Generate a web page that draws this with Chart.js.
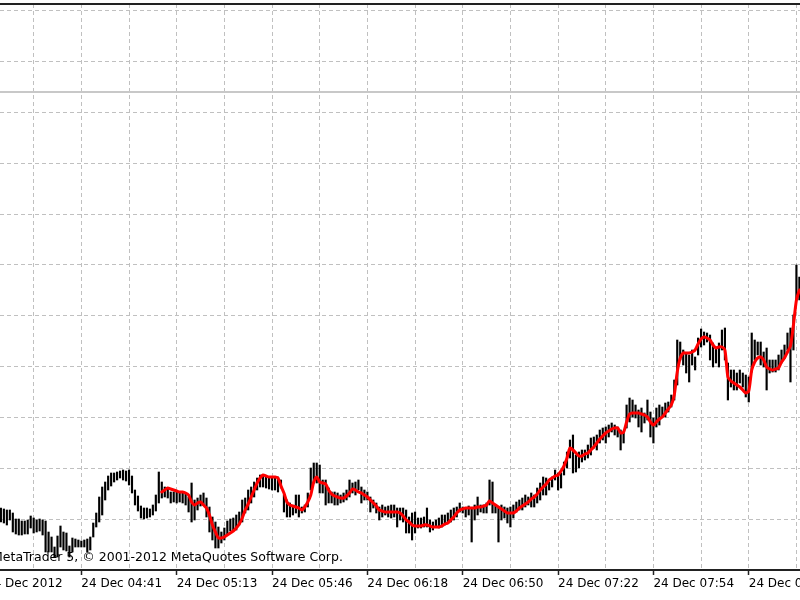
<!DOCTYPE html>
<html><head><meta charset="utf-8">
<script src="https://cdn.jsdelivr.net/npm/chart.js@4/dist/chart.umd.min.js"></script>
<style>html,body{margin:0;padding:0;background:#fff;overflow:hidden}canvas{display:block}</style>
</head><body>
<canvas id="c" width="800" height="600"></canvas>
<script>
// Price values in points (one-minute bars, high / low)
const barHigh = [
 92,91,90,90,87,81,81,79,79,80,
 84,82,80,81,80,79,68,63,53,64,
 74,68,67,54,62,61,60,59,60,61,
 63,77,87,103,113,118,124,127,127,128,
 129,130,129,130,124,110,104,94,92,92,
 91,95,105,128,118,113,112,108,108,108,
 107,107,107,103,117,100,102,105,107,102,
 93,83,78,73,68,72,79,81,82,85,
 88,100,102,110,113,118,122,125,124,123,
 122,122,123,123,120,105,100,97,93,105,
 105,93,95,107,132,137,137,135,120,120,
 112,108,108,107,105,107,110,120,117,118,
 120,113,110,108,103,100,97,93,95,93,
 94,95,95,92,92,92,90,83,87,88,
 82,82,83,92,80,78,80,82,85,85,
 87,90,92,93,97,93,92,94,92,95,
 103,95,95,97,120,118,95,93,95,93,
 92,93,95,98,100,102,105,103,107,105,
 112,117,123,122,118,123,130,127,127,138,
 148,160,165,145,148,150,150,155,162,163,
 165,170,172,173,175,177,175,173,170,168,
 195,202,200,195,190,192,187,200,188,182,
 192,195,193,197,198,205,220,260,258,250,
 247,245,250,243,262,271,268,267,265,257,
 253,257,270,272,237,230,230,227,230,227,
 225,223,267,260,258,258,248,252,240,240,
 240,245,250,255,267,272,285,335,323
];
const barLow = [
 78,77,75,80,68,66,65,65,66,66,
 72,67,68,69,65,48,48,48,43,43,
 53,50,49,43,48,53,53,53,53,48,
 50,63,73,78,85,100,110,114,118,120,
 122,120,119,115,107,95,89,82,81,82,
 83,85,89,97,102,103,102,97,98,97,
 98,97,95,88,78,80,90,94,95,83,
 68,60,52,52,57,60,65,69,70,70,
 75,78,87,90,97,103,110,113,113,112,
 111,110,110,108,112,88,83,83,85,87,
 83,87,88,93,110,117,117,107,107,95,
 97,97,95,95,97,98,100,103,107,105,
 110,97,100,100,88,92,87,80,83,85,
 83,82,83,73,80,78,67,67,60,67,
 72,72,73,73,68,70,73,72,73,75,
 77,78,80,83,88,87,83,85,58,80,
 85,88,87,87,95,87,87,58,80,82,
 77,73,82,88,90,90,93,95,93,93,
 97,100,105,105,110,113,120,110,112,125,
 132,142,127,128,132,138,140,142,145,152,
 150,157,160,157,163,168,165,163,150,157,
 172,178,183,182,173,168,177,180,163,157,
 173,175,183,183,188,193,200,215,240,235,
 227,218,235,230,245,253,255,258,240,233,
 237,233,250,240,200,213,210,210,217,213,
 203,198,228,240,245,235,233,210,227,228,
 228,230,237,242,250,218,250,300,300
];
// Moving average (red), starting at bar 54
const maStartIndex = 54;
const maValues = [
 108,110,112,111,110,109,108,108,107,105,
 98,95,97,98,95,92,85,75,68,62,
 62,63,65,67,69,72,76,82,90,96,
 103,110,117,122,125,124,123,123,123,122,
 114,107,98,95,94,93,92,90,93,98,
 105,118,123,118,117,116,110,106,104,103,
 102,102,104,107,111,110,108,107,105,103,
 100,97,94,90,89,88,88,88,88,88,
 87,84,80,78,75,74,74,74,75,75,
 74,73,73,73,74,76,77,80,83,87,
 90,91,92,92,92,92,93,93,94,95,
 99,97,95,93,91,89,87,87,87,89,
 92,94,96,98,101,103,106,110,113,116,
 120,122,124,125,129,134,142,152,150,147,
 144,144,146,147,150,153,157,161,164,167,
 169,171,172,172,167,168,178,186,187,187,
 187,186,185,183,178,175,178,181,183,187,
 191,195,205,228,242,247,247,247,248,250,
 256,261,263,262,260,255,252,253,253,250,
 223,219,217,215,213,210,207,209,230,238,
 242,243,240,233,231,230,231,232,238,242,
 248,254,275,300,310
];
const tickBars = [-5, 27, 59, 91, 123, 155, 187, 219, 251];
const tickLabels = ['24 Dec 2012','24 Dec 04:41','24 Dec 05:13','24 Dec 05:46','24 Dec 06:18','24 Dec 06:50','24 Dec 07:22','24 Dec 07:54','24 Dec 08:26'];
const gridBars = [11,27,43,59,75,91,107,123,139,155,171,187,203,219,235,251,267];
const priceGrid = [81,131.8,182.6,233.4,284.2,335,385.8,436.6,487.4,538.2,589];
const priceLine = 508;
const copyright = 'MetaTrader 5, \u00A9 2001-2012 MetaQuotes Software Corp.';

const FONT = '"DejaVu Sans", sans-serif';
const labelMap = {};
tickBars.forEach((b, i) => { labelMap[b] = tickLabels[i]; });

const decor = {
  id: 'decor',
  beforeDraw(chart) {
    const ctx = chart.ctx;
    ctx.save(); ctx.fillStyle = '#fff'; ctx.fillRect(0, 0, chart.width, chart.height); ctx.restore();
  },
  beforeDatasetsDraw(chart) {
    const {ctx, chartArea: a, scales: {y}} = chart;
    const py = Math.round(y.getPixelForValue(priceLine));
    ctx.save();
    ctx.strokeStyle = '#c8c8c8'; ctx.lineWidth = 2;
    ctx.beginPath(); ctx.moveTo(a.left, py); ctx.lineTo(a.right, py); ctx.stroke();
    ctx.strokeStyle = '#222'; ctx.lineWidth = 2;
    ctx.beginPath(); ctx.moveTo(0, a.top); ctx.lineTo(chart.width, a.top); ctx.stroke();
    ctx.restore();
  },
  afterDraw(chart) {
    const {ctx, chartArea: a} = chart;
    ctx.save();
    ctx.font = '12.5px ' + FONT; ctx.fillStyle = '#000';
    ctx.textBaseline = 'middle'; ctx.textAlign = 'left';
    ctx.fillText(copyright, -8, a.bottom - 12);
    ctx.restore();
  }
};

new Chart(document.getElementById('c'), {
  type: 'bar',
  data: {
    datasets: [
      {
        type: 'line',
        data: maValues.map((v, k) => ({x: maStartIndex + k, y: v})),
        borderColor: '#ff0000', borderWidth: 3, pointRadius: 0, tension: 0.25,
        borderJoinStyle: 'round', borderCapStyle: 'round', order: 0
      },
      {
        type: 'bar',
        data: barHigh.map((h, i) => ({x: i, y: [barLow[i], h]})),
        backgroundColor: '#000', borderWidth: 0, barThickness: 1.5, grouped: false, order: 1
      }
    ]
  },
  options: {
    responsive: false, animation: false, devicePixelRatio: 1,
    layout: {padding: {top: 4, left: 0, right: 0, bottom: 0}},
    plugins: {legend: {display: false}, tooltip: {enabled: false}},
    scales: {
      x: {
        type: 'linear', min: -0.3, max: 268.2, offset: false,
        afterBuildTicks: s => { s.ticks = [-5, ...gridBars].map(v => ({value: v})); },
        afterFit: s => { s.height = 30; s.paddingLeft = 0; s.paddingRight = 0; },
        ticks: {
          autoSkip: false, maxRotation: 0, minRotation: 0, align: 'start', padding: 2,
          color: '#000', font: {family: FONT, size: 12},
          callback: v => (labelMap[v] !== undefined ? labelMap[v] : '')
        },
        grid: {
          offset: false, color: '#c0c0c0', lineWidth: 1, drawTicks: true, tickLength: 5,
          tickWidth: 1.5, tickBorderDash: [],
          tickColor: c => (c.tick && labelMap[c.tick.value] !== undefined) ? '#222' : 'rgba(0,0,0,0)'
        },
        border: {display: true, color: '#222', width: 2, dash: [4, 3]}
      },
      y: {
        type: 'linear', min: 30, max: 596,
        afterBuildTicks: s => { s.ticks = priceGrid.map(v => ({value: v})); },
        afterFit: s => { s.width = 0; },
        ticks: {display: false},
        grid: {color: '#c0c0c0', lineWidth: 1, drawTicks: false},
        border: {display: false, dash: [4, 3]}
      }
    }
  },
  plugins: [decor]
});
</script>
</body></html>
